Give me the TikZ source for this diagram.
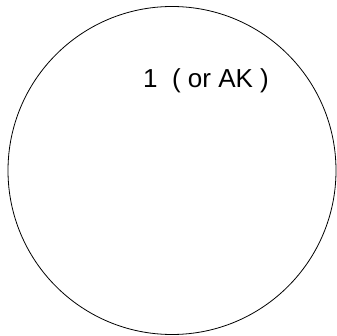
\documentclass[tikz,border=0pt]{standalone}
\usepackage{fontspec}
\setmainfont{Liberation Sans}
\usetikzlibrary{positioning}

\begin{document}
\begin{tikzpicture}[
    x=1pt, y=-1pt,
    ring/.style={draw, circle, line width=0.8pt, minimum size=328pt, inner sep=0pt},
    tag/.style={font=\fontsize{26}{31}\selectfont, inner sep=0pt}
]
    \useasboundingbox (0,0) rectangle (337,336);
    \node[ring] (circ) at (172,170.5) {};
    \node[tag, anchor=base west] (label) at (143,88) {1\ \ ( or AK )};
\end{tikzpicture}
\end{document}
